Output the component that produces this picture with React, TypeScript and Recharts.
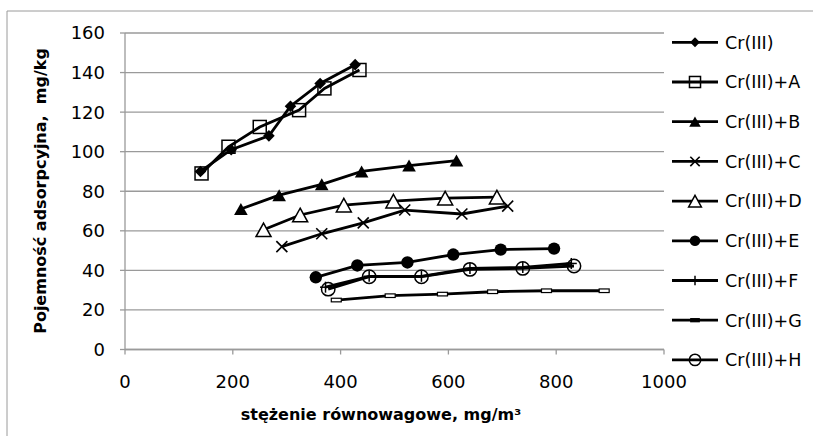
import React from 'react';
import { LineChart, Line, XAxis, YAxis, CartesianGrid } from 'recharts';

type Pt = { x: number; y: number };

const seriesNames = [
  'Cr(III)',
  'Cr(III)+A',
  'Cr(III)+B',
  'Cr(III)+C',
  'Cr(III)+D',
  'Cr(III)+E',
  'Cr(III)+F',
  'Cr(III)+G',
  'Cr(III)+H',
];

const crIII: Pt[] = [
  { x: 140, y: 90 }, { x: 197, y: 101 }, { x: 267, y: 108 },
  { x: 307, y: 123 }, { x: 362, y: 134.5 }, { x: 427, y: 144 },
];
const crIIIA: Pt[] = [
  { x: 142, y: 89 }, { x: 192, y: 102.5 }, { x: 250, y: 112.5 },
  { x: 323, y: 121 }, { x: 370, y: 132 }, { x: 435, y: 141.3 },
];
const crIIIB: Pt[] = [
  { x: 215, y: 71 }, { x: 286, y: 78 }, { x: 365, y: 83.5 },
  { x: 439, y: 90 }, { x: 527, y: 93 }, { x: 615, y: 95.5 },
];
const crIIIC: Pt[] = [
  { x: 291, y: 52 }, { x: 365, y: 58.5 }, { x: 442, y: 64 },
  { x: 519, y: 70.5 }, { x: 625, y: 68.5 }, { x: 710, y: 72.5 },
];
const crIIID: Pt[] = [
  { x: 257, y: 60.5 }, { x: 325, y: 68 }, { x: 406, y: 73 },
  { x: 498, y: 75 }, { x: 594, y: 76.5 }, { x: 690, y: 77 },
];
const crIIIE: Pt[] = [
  { x: 354, y: 36.5 }, { x: 431, y: 42.5 }, { x: 524, y: 44 },
  { x: 609, y: 48 }, { x: 697, y: 50.5 }, { x: 796, y: 51 },
];
const crIIIF: Pt[] = [
  { x: 372, y: 31.5 }, { x: 453, y: 37 }, { x: 550, y: 37 },
  { x: 640, y: 41 }, { x: 738, y: 41.5 }, { x: 828, y: 43.5 },
];
const crIIIG: Pt[] = [
  { x: 392, y: 25 }, { x: 492, y: 27.2 }, { x: 589, y: 28 },
  { x: 682, y: 29.2 }, { x: 782, y: 29.7 }, { x: 889, y: 29.7 },
];
const crIIIH: Pt[] = [
  { x: 377, y: 30.5 }, { x: 453, y: 36.8 }, { x: 550, y: 36.8 },
  { x: 640, y: 40.5 }, { x: 738, y: 41 }, { x: 833, y: 42.2 },
];

const xTicks = [0, 200, 400, 600, 800, 1000];
const yTicks = [0, 20, 40, 60, 80, 100, 120, 140, 160];

const xTitle = 'stężenie równowagowe, mg/m³';
const yTitle = 'Pojemność adsorpcyjna,\u00a0 mg/kg';

type Kind =
  | 'diamond'
  | 'square'
  | 'triFilled'
  | 'cross'
  | 'triOpen'
  | 'circleFilled'
  | 'plus'
  | 'dash'
  | 'circleOpen';

const kinds: Kind[] = [
  'diamond', 'square', 'triFilled', 'cross', 'triOpen',
  'circleFilled', 'plus', 'dash', 'circleOpen',
];
const allData: Pt[][] = [crIII, crIIIA, crIIIB, crIIIC, crIIID, crIIIE, crIIIF, crIIIG, crIIIH];

const FONT = '"DejaVu Sans", sans-serif';

function Marker({ kind, cx, cy, s = 1, legend = false }: { kind: Kind; cx: number; cy: number; s?: number; legend?: boolean }) {
  if (cx == null || cy == null || isNaN(cx) || isNaN(cy)) return null;
  switch (kind) {
    case 'diamond': {
      const r = 5.8 * s;
      return <polygon points={`${cx},${cy - r} ${cx + r},${cy} ${cx},${cy + r} ${cx - r},${cy}`} fill="#000" />;
    }
    case 'square': {
      const h = 6.5 * s;
      return <rect x={cx - h} y={cy - h} width={2 * h} height={2 * h} fill="none" stroke="#000" strokeWidth={1.5} />;
    }
    case 'triFilled': {
      const w = 6.8 * s, h = 6 * s;
      return <polygon points={`${cx},${cy - h} ${cx + w},${cy + h} ${cx - w},${cy + h}`} fill="#000" />;
    }
    case 'cross': {
      const r = 5.5 * s;
      return (
        <g stroke="#000" strokeWidth={1.6}>
          <line x1={cx - r} y1={cy - r} x2={cx + r} y2={cy + r} />
          <line x1={cx - r} y1={cy + r} x2={cx + r} y2={cy - r} />
        </g>
      );
    }
    case 'triOpen': {
      const w = 7.5 * s, h = 6.8 * s;
      return <polygon points={`${cx},${cy - h} ${cx + w},${cy + h} ${cx - w},${cy + h}`} fill="#fff" stroke="#000" strokeWidth={1.5} />;
    }
    case 'circleFilled':
      return <circle cx={cx} cy={cy} r={6.2 * s} fill="#000" />;
    case 'plus': {
      const r = 5.5 * s;
      return (
        <g stroke="#000" strokeWidth={1.5}>
          <line x1={cx - r} y1={cy} x2={cx + r} y2={cy} />
          <line x1={cx} y1={cy - r} x2={cx} y2={cy + r} />
        </g>
      );
    }
    case 'dash': {
      const w = 10 * s, h = 3.6 * s;
      return (
        <rect
          x={cx - w / 2}
          y={cy - h / 2}
          width={w}
          height={h}
          fill={legend ? '#000' : '#fff'}
          stroke="#000"
          strokeWidth={1.2}
        />
      );
    }
    case 'circleOpen':
      return <circle cx={cx} cy={cy} r={6.7 * s} fill="none" stroke="#000" strokeWidth={1.5} />;
  }
  return null;
}

const GRAY = '#9a9a9a';

export default function App() {
  return (
    <div style={{ position: 'absolute', left: 0, top: 0, width: 813, height: 436, background: '#fff' }}>
      <LineChart
        width={813}
        height={436}
        margin={{ top: 33, right: 149, bottom: 46.5, left: 65 }}
      >
        <CartesianGrid vertical={false} stroke={GRAY} strokeWidth={1.3} />
        <XAxis
          type="number"
          dataKey="x"
          domain={[0, 1000]}
          ticks={xTicks}
          interval={0}
          allowDataOverflow
          height={40}
          tickSize={5}
          tickMargin={21}
          axisLine={{ stroke: GRAY, strokeWidth: 1.3 }}
          tickLine={{ stroke: GRAY, strokeWidth: 1.3 }}
          tick={{ fill: '#000', fontSize: 18, fontFamily: FONT }}
        />
        <YAxis
          type="number"
          dataKey="y"
          domain={[0, 160]}
          ticks={yTicks}
          interval={0}
          width={60}
          tickSize={5}
          tickMargin={15}
          axisLine={{ stroke: GRAY, strokeWidth: 1.3 }}
          tickLine={{ stroke: GRAY, strokeWidth: 1.3 }}
          tick={{ fill: '#000', fontSize: 18, fontFamily: FONT }}
        />
        {allData.map((d, i) => (
          <Line
            key={seriesNames[i]}
            data={d}
            dataKey="y"
            name={seriesNames[i]}
            type="linear"
            stroke="#000"
            strokeWidth={2.8}
            isAnimationActive={false}
            dot={(p: any) => <Marker key={`${i}-${p.index}`} kind={kinds[i]} cx={p.cx} cy={p.cy} />}
            activeDot={false}
          />
        ))}
      </LineChart>
      <svg
        width={813}
        height={436}
        style={{ position: 'absolute', left: 0, top: 0, pointerEvents: 'none' }}
      >
        <line x1={7} y1={11} x2={7} y2={436} stroke={GRAY} strokeWidth={1} />
        <line x1={7} y1={11} x2={813} y2={11} stroke={GRAY} strokeWidth={1} />
        <text x={381} y={420} textAnchor="middle" fontFamily={FONT} fontWeight="bold" fontSize={16} fill="#000">
          {xTitle}
        </text>
        <text
          x={46}
          y={191}
          textAnchor="middle"
          fontFamily={FONT}
          fontWeight="bold"
          fontSize={16}
          fill="#000"
          transform="rotate(-90 46 191)"
        >
          {yTitle}
        </text>
        {seriesNames.map((n, i) => {
          const cy = 42.3 + i * 39.7;
          return (
            <g key={n}>
              <line x1={672} y1={cy} x2={718} y2={cy} stroke="#000" strokeWidth={2.8} />
              <Marker kind={kinds[i]} cx={695} cy={cy} s={0.85} legend />
              <text x={725} y={cy} dy="0.36em" fontFamily={FONT} fontSize={17.5} fill="#000">
                {n}
              </text>
            </g>
          );
        })}
      </svg>
    </div>
  );
}
